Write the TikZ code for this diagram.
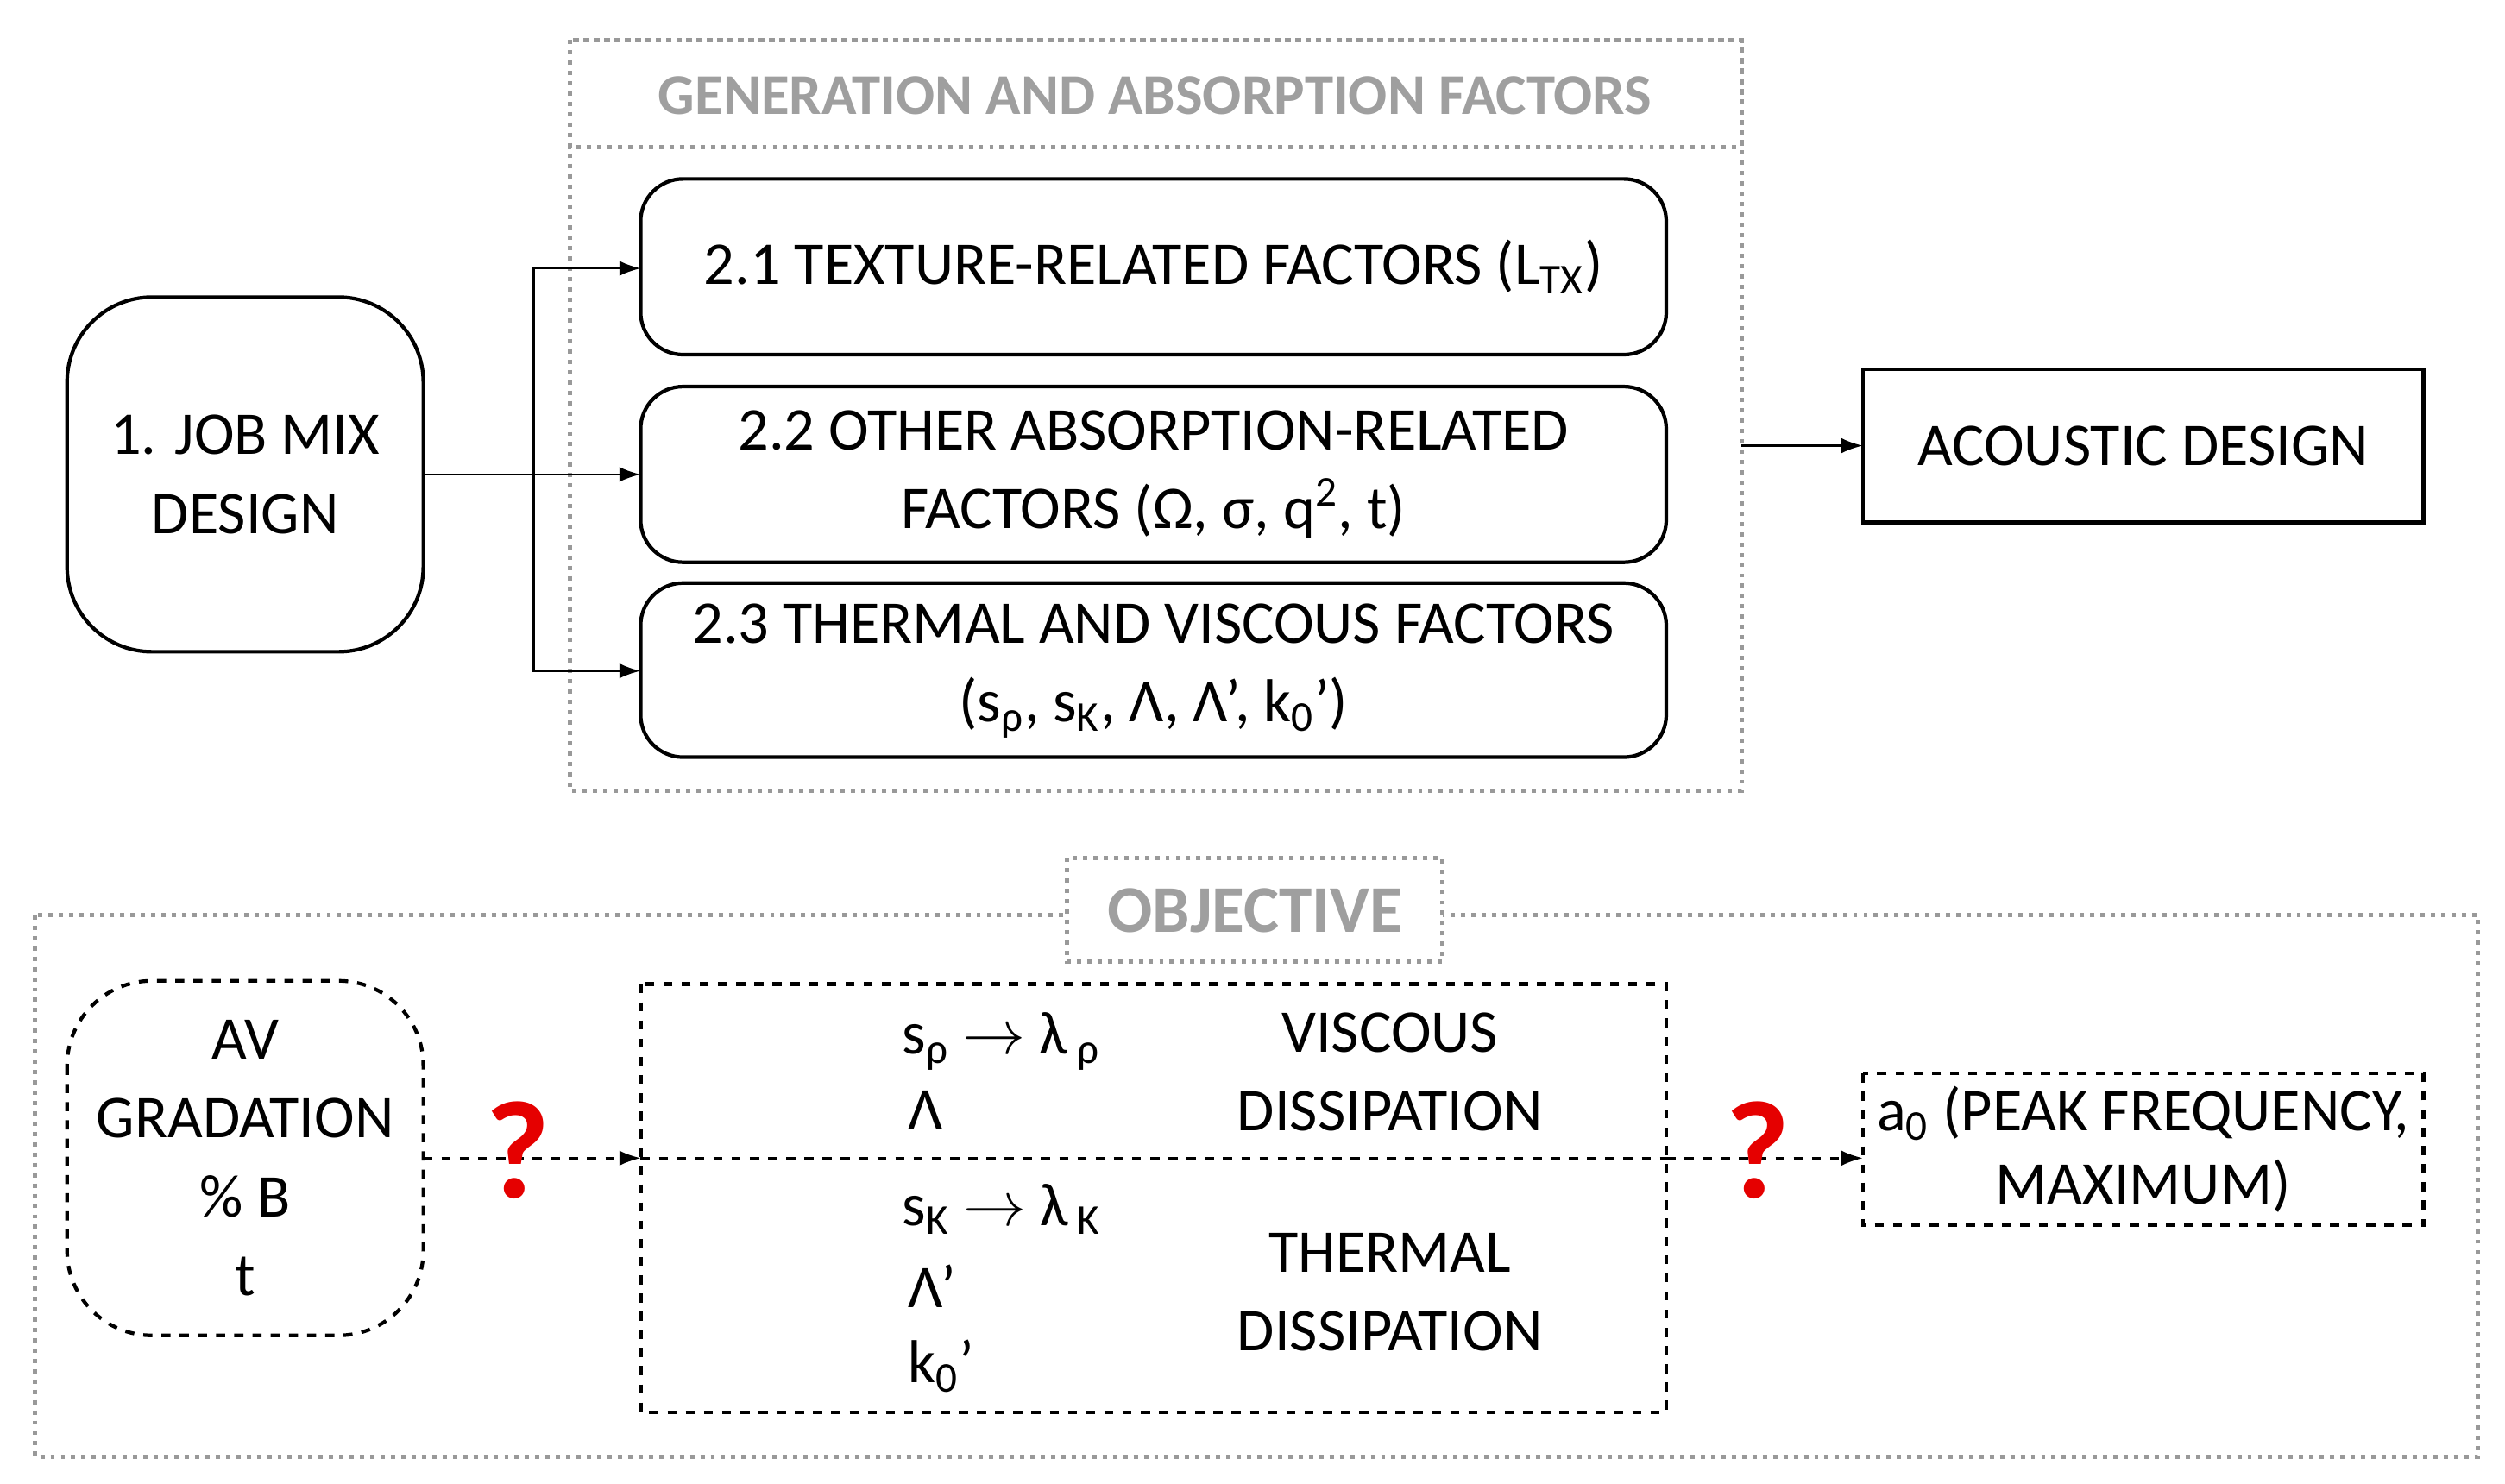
\documentclass[tikz,border=0pt]{standalone}
\usepackage{fontspec}
\setmainfont{Carlito}
\usetikzlibrary{arrows.meta}
\begin{document}
\begin{tikzpicture}[x=0.018514cm,y=-0.018514cm,
  every node/.style={font=\fontsize{20}{24}\selectfont},
  box/.style={draw,line width=1.2pt,inner sep=0pt},
  dotbox/.style={draw=gray!80,dotted,line width=1.4pt},
  arr/.style={-{Latex[length=7pt,width=5pt]},line width=0.7pt},
  darr/.style={arr,dashed},
  ttl/.style={font=\fontsize{19}{22}\selectfont\bfseries,text=gray!75},
  qm/.style={text=red!90!black,font=\fontsize{46}{50}\selectfont\bfseries}]
\useasboundingbox (0,0) rectangle (1568,929);
% top group
\draw[dotbox] (357,25) rectangle (1090,495);
\draw[dotbox] (357,25) rectangle (1090,92);
\node[ttl] (gt) at (723,60) {GENERATION AND ABSORPTION FACTORS};
\draw[box,rounded corners=28pt] (42,186) rectangle (265,408);
\node[align=center] (jm) at (153.5,297) {1. JOB MIX\\[2pt]DESIGN};
\coordinate (jmR) at (265,297);
\draw[box,rounded corners=14pt] (401,112) rectangle (1043,222);
\node (t21) at (722,167) {2.1 TEXTURE-RELATED FACTORS (L\textsubscript{TX})};
\draw[box,rounded corners=14pt] (401,242) rectangle (1043,352);
\node[align=center] (t22) at (722,297) {2.2 OTHER ABSORPTION-RELATED\\[2pt]FACTORS (Ω, σ, q\textsuperscript{2}, t)};
\draw[box,rounded corners=14pt] (401,365) rectangle (1043,474);
\node[align=center] (t23) at (722,420) {2.3 THERMAL AND VISCOUS FACTORS\\[2pt](s\textsubscript{ρ}, s\textsubscript{K}, Λ, Λ’, k\textsubscript{0}’)};
\coordinate (b21) at (401,168);
\coordinate (b22) at (401,297);
\coordinate (b23) at (401,420);
\coordinate (br) at (334,297);
\draw[arr] (jmR) -- (b22);
\draw[arr] (br) |- (b21);
\draw[arr] (br) |- (b23);
\draw[box] (1166,231) rectangle (1517,327);
\node (ad) at (1341.5,279) {ACOUSTIC DESIGN};
\coordinate (gR) at (1090,279);
\coordinate (adL) at (1166,279);
\draw[arr] (gR) -- (adL);
% bottom group
\draw[dotbox] (22,573) rectangle (1551,912);
\draw[dotbox,fill=white] (668,537) rectangle (903,602);
\node[ttl,font=\fontsize{22}{26}\selectfont\bfseries] (ob) at (785.5,570) {OBJECTIVE};
\draw[box,dashed,rounded corners=28pt] (42,614) rectangle (265,836);
\node[align=center] (av) at (153.5,725) {AV\\[2pt]GRADATION\\[2pt]\% B\\[2pt]t};
\draw[box,dashed] (401,616) rectangle (1043,884);
\draw[dashed,line width=0.7pt] (401,725) -- (1043,725);
\node[anchor=west] (s1) at (558,652) {s\textsubscript{ρ} $\rightarrow$ λ\textsubscript{ ρ}};
\node[anchor=west] (l1) at (562,695) {Λ};
\node[align=center] (vd) at (870,671) {VISCOUS\\[2pt]DISSIPATION};
\node[anchor=west] (s2) at (558,757) {s\textsubscript{K} $\rightarrow$ λ\textsubscript{ K}};
\node[anchor=west] (l2) at (562,805) {Λ’};
\node[anchor=west] (k2) at (562,855) {k\textsubscript{0}’};
\node[align=center] (td) at (870,809) {THERMAL\\[2pt]DISSIPATION};
\draw[box,dashed] (1166,672) rectangle (1517,767);
\node[align=center] (a0) at (1341.5,719.5) {a\textsubscript{0} (PEAK FREQUENCY,\\MAXIMUM)};
\coordinate (avR) at (265,725);
\coordinate (mL) at (401,725);
\coordinate (mR) at (1043,725);
\coordinate (aL) at (1166,725);
\draw[darr] (avR) -- (mL);
\draw[darr] (mR) -- (aL);
\node[qm] (q1) at (324,720) {?};
\node[qm] (q2) at (1100,720) {?};
\end{tikzpicture}
\end{document}
